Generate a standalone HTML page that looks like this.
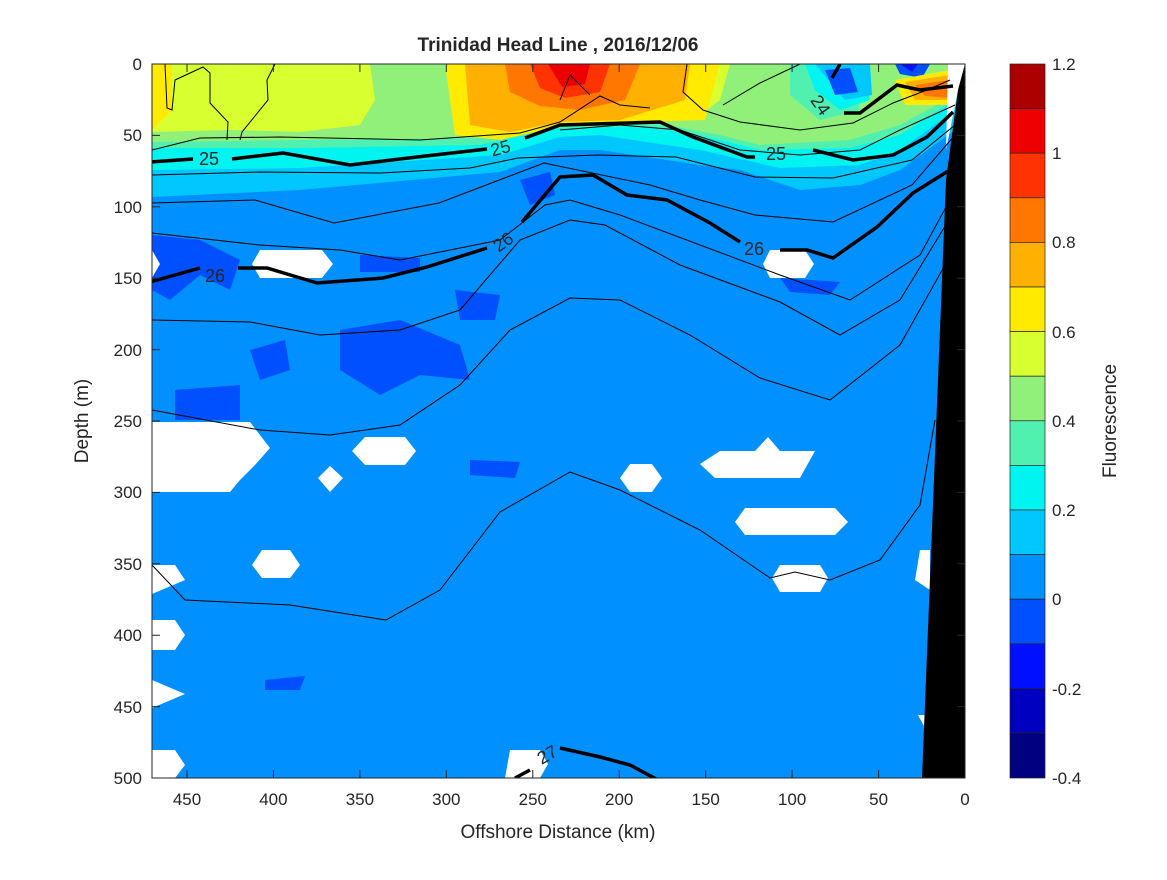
<!DOCTYPE html>
<html><head><meta charset="utf-8"><style>
body{margin:0;background:#fff;}
svg text{font-family:"Liberation Sans",sans-serif;fill:#262626;}
</style></head><body>
<svg width="1167" height="875" viewBox="0 0 1167 875" xmlns="http://www.w3.org/2000/svg">
<defs><clipPath id="c"><rect x="152" y="64" width="813" height="714"/></clipPath></defs>
<g clip-path="url(#c)">
<rect x="152" y="64" width="813" height="714" fill="#0090ff"/>
<g fill="#0050ff">
<polygon points="152,235 200,240 240,260 230,290 200,275 170,300 152,290"/>
<polygon points="340,330 400,320 460,345 470,380 420,375 380,395 340,370"/>
<polygon points="175,390 240,385 240,420 175,420"/>
<polygon points="250,350 285,340 290,370 260,380"/>
<polygon points="360,255 420,258 420,272 360,272"/>
<polygon points="455,290 500,295 495,320 460,320"/>
<polygon points="520,180 550,172 555,195 530,205"/>
<polygon points="780,278 840,282 830,295 790,292"/>
<polygon points="265,680 305,676 300,690 265,690"/>
<polygon points="470,460 520,462 515,478 470,475"/>
</g>
<!-- light blue -->
<path fill="#00c8ff" d="M152,64 L965,64 L955,130 L900,170 L860,185 L800,190 L740,170 L700,165 L600,150 L560,150 L500,172 L300,190 L152,197 Z"/>
<!-- cyan -->
<path fill="#00f5f0" d="M152,64 L965,64 L955,110 L900,150 L860,165 L780,168 L700,150 L600,135 L560,137 L500,155 L300,168 L152,170 Z"/>
<path fill="#50f0b0" d="M152,64 L965,64 L955,100 L900,135 L850,148 L760,150 L720,140 L650,126 L560,128 L480,145 L300,148 L152,148 Z"/>
<!-- light green -->
<path fill="#90f07a" d="M152,64 L965,64 L955,95 L900,125 L850,140 L760,145 L720,135 L650,122 L560,125 L480,138 L300,140 L152,142 Z"/>
<!-- yellow-green -->
<path fill="#d8ff30" d="M152,64 L370,64 L375,100 L360,125 L300,132 L230,130 L152,132 Z"/>
<polygon fill="#ffea00" points="152,64 172,64 172,110 152,130"/>
<!-- right bowl -->
<polygon fill="#d8ff30" points="690,64 730,64 720,100 700,115 690,100"/>
<polygon fill="#50f0b0" points="790,64 850,64 860,110 820,120 790,95"/>
<polygon fill="#00f5f0" points="805,64 865,64 870,100 840,110 815,90"/>
<polygon fill="#00c8ff" points="815,64 870,64 872,95 845,100"/>
<polygon fill="#0050ff" points="825,70 850,68 858,92 835,95"/>
<polygon fill="#0050ff" points="895,64 930,64 922,78 900,74"/>
<polygon fill="#0010ff" points="900,64 918,64 912,72"/>
<!-- orange -->
<polygon fill="#ffea00" points="445,64 720,64 705,120 640,122 560,126 500,140 455,135"/>
<polygon fill="#ffb000" points="465,64 690,64 685,100 620,120 560,122 510,132 470,125"/>
<polygon fill="#ff7700" points="505,64 640,64 625,100 580,110 540,106 510,92"/>
<polygon fill="#ff3300" points="530,64 610,64 600,92 565,98 540,88"/>
<polygon fill="#ee0000" points="548,64 590,64 585,84 562,87"/>
<polygon fill="#ffea00" points="895,80 950,70 950,105 905,105"/>
<polygon fill="#ffb000" points="905,82 950,75 950,100 915,100"/>
<polygon fill="#ff7700" points="915,85 950,80 950,98 925,96"/>
<!-- white holes -->
<g fill="#fff">
<polygon points="152,250 160,264 152,278"/>
<polygon points="260,250 322,250 333,264 322,278 260,278 252,264"/>
<polygon points="770,250 805,250 814,264 805,278 770,278 763,264"/>
<polygon points="152,422 250,422 270,448 255,465 240,480 230,492 152,492"/>
<polygon points="365,437 405,437 416,451 405,465 365,465 352,451"/>
<polygon points="330,466 343,478 330,492 318,478"/>
<polygon points="720,451 755,451 768,437 780,451 815,451 800,478 715,478 700,464"/>
<polygon points="630,464 652,464 662,478 652,492 630,492 620,478"/>
<polygon points="745,508 835,508 848,522 835,535 745,535 735,522"/>
<polygon points="262,550 290,550 300,565 290,578 262,578 252,565"/>
<polygon points="780,565 820,565 828,578 820,592 780,592 772,578"/>
<polygon points="152,565 175,565 185,580 152,594"/>
<polygon points="152,620 175,620 185,635 175,650 152,650"/>
<polygon points="152,680 185,694 152,708"/>
<polygon points="152,750 175,750 185,765 175,778 152,778"/>
<polygon points="510,750 540,750 548,764 540,778 505,778"/>
<polygon points="920,550 930,550 930,590 915,580"/>
<polygon points="918,715 925,715 925,728"/>
<polygon points="948,64 965,64 958,90 946,150"/>
</g>
<polygon fill="#000" points="965,64 965,778 922,778 946,180 958,90"/>
<!-- thin contours -->
<g fill="none" stroke="#000" stroke-width="1">
<polyline points="165,64 167,108 172,110 175,80 203,67 210,73 210,103 228,122 227,140"/>
<polyline points="275,64 267,80 268,100 242,132 240,140"/>
<polyline points="152,150 200,138 280,137 420,140 520,133 560,122 600,96 620,105 650,108"/>
<polyline points="560,100 570,75 590,95"/>
<polyline points="687,64 683,92 703,110 740,122 800,130 853,123 893,103 927,90 950,80"/>
<polyline points="723,105 760,83 800,64"/>
<polyline points="560,130 620,125 680,130 740,150 800,155 860,150 900,130 955,105"/>
<polyline points="152,175 260,172 380,173 470,168 518,158 597,155 676,157 755,177 833,178 912,160 955,125"/>
<polyline points="152,203 255,200 334,223 439,203 544,163 650,185 700,200 755,215 833,222 912,185 955,135"/>
<polyline points="152,233 260,245 340,250 400,260 500,240 545,205 570,200 620,215 700,245 780,275 850,300 920,255 958,185"/>
<polyline points="152,320 250,322 320,335 400,330 460,310 520,240 570,220 605,225 680,265 780,302 840,335 900,300 958,205"/>
<polyline points="152,410 260,430 330,435 400,425 460,385 510,330 570,298 620,300 690,335 760,378 830,400 900,345 945,265"/>
<polyline points="152,565 185,600 290,605 386,620 440,590 500,512 570,472 620,490 700,530 770,578 795,572 830,580 880,560 920,505 935,420"/>
</g>
<!-- thick contours -->
<g fill="none" stroke="#000" stroke-width="3.5">
<polyline points="150,162 193,159"/>
<polyline points="232,159 283,153 350,165 417,157 487,149"/>
<polyline points="525,138 560,125 660,122 693,137 747,157 755,157"/>
<polyline points="813,150 853,160 893,155 927,137 953,112"/>
<polyline points="840,64 832,78"/>
<polyline points="844,113 860,113 897,85 920,90 953,86"/>
<polyline points="150,282 200,268"/>
<polyline points="238,268 267,268 317,283 383,278 427,267 487,248"/>
<polyline points="522,222 560,177 593,175 627,195 667,200 710,223 740,242"/>
<polyline points="780,250 807,250 833,258 877,227 913,193 953,168"/>
<polyline points="515,778 530,770"/>
<polyline points="560,748 600,757 630,765 658,780"/>
</g>
<g font-size="18" fill="#000">
<text x="199" y="165">25</text>
<text x="490" y="153" transform="rotate(-15 505 146)">25</text>
<text x="766" y="160">25</text>
<text x="205" y="282">26</text>
<text x="490" y="246" transform="rotate(-35 505 236)">26</text>
<text x="744" y="255">26</text>
<text x="812" y="112" transform="rotate(55 822 104)">24</text>
<text x="537" y="762" transform="rotate(-30 545 755)">27</text>
</g>
</g>
<rect x="152" y="64" width="813" height="714" fill="none" stroke="#262626" stroke-width="1"/>
<g stroke="#262626" stroke-width="1">
<path d="M152,135.4h8M152,206.8h8M152,278.2h8M152,349.6h8M152,421h8M152,492.4h8M152,563.8h8M152,635.2h8M152,706.6h8"/>
<path d="M965,135.4h-8M965,206.8h-8M965,278.2h-8M965,349.6h-8M965,421h-8M965,492.4h-8M965,563.8h-8M965,635.2h-8M965,706.6h-8"/>
<path d="M187,778v-8M273.4,778v-8M359.9,778v-8M446.3,778v-8M532.8,778v-8M619.2,778v-8M705.7,778v-8M792.1,778v-8M878.6,778v-8"/>
<path d="M187,64v8M273.4,64v8M359.9,64v8M446.3,64v8M532.8,64v8M619.2,64v8M705.7,64v8M792.1,64v8M878.6,64v8"/>
</g>
<g font-size="17" text-anchor="end">
<text x="142" y="70">0</text><text x="142" y="141">50</text><text x="142" y="213">100</text><text x="142" y="284">150</text><text x="142" y="356">200</text><text x="142" y="427">250</text><text x="142" y="498">300</text><text x="142" y="570">350</text><text x="142" y="641">400</text><text x="142" y="713">450</text><text x="142" y="784">500</text>
</g>
<g font-size="17" text-anchor="middle">
<text x="187" y="805">450</text><text x="273.4" y="805">400</text><text x="359.9" y="805">350</text><text x="446.3" y="805">300</text><text x="532.8" y="805">250</text><text x="619.2" y="805">200</text><text x="705.7" y="805">150</text><text x="792.1" y="805">100</text><text x="878.6" y="805">50</text><text x="965" y="805">0</text>
</g>
<text x="558" y="838" font-size="19" text-anchor="middle">Offshore Distance (km)</text>
<text x="88" y="421" font-size="19" text-anchor="middle" transform="rotate(-90 88 421)">Depth (m)</text>
<text x="558" y="51" font-size="19" font-weight="bold" text-anchor="middle" fill="#000">Trinidad Head Line , 2016/12/06</text>
<g stroke="#262626" stroke-width="0.7">
<rect x="1010" y="64" width="35" height="44.6" fill="#aa0000"/>
<rect x="1010" y="108.6" width="35" height="44.6" fill="#ee0000"/>
<rect x="1010" y="153.2" width="35" height="44.6" fill="#ff3300"/>
<rect x="1010" y="197.8" width="35" height="44.6" fill="#ff7700"/>
<rect x="1010" y="242.4" width="35" height="44.6" fill="#ffb000"/>
<rect x="1010" y="287" width="35" height="44.6" fill="#ffea00"/>
<rect x="1010" y="331.6" width="35" height="44.6" fill="#d8ff30"/>
<rect x="1010" y="376.2" width="35" height="44.6" fill="#90f07a"/>
<rect x="1010" y="420.8" width="35" height="44.6" fill="#50f0b0"/>
<rect x="1010" y="465.4" width="35" height="44.6" fill="#00f5f0"/>
<rect x="1010" y="510" width="35" height="44.6" fill="#00c8ff"/>
<rect x="1010" y="554.6" width="35" height="44.6" fill="#0090ff"/>
<rect x="1010" y="599.2" width="35" height="44.6" fill="#0050ff"/>
<rect x="1010" y="643.8" width="35" height="44.6" fill="#0010ff"/>
<rect x="1010" y="688.4" width="35" height="44.6" fill="#0000c0"/>
<rect x="1010" y="733" width="35" height="45" fill="#000080"/>
</g>
<g font-size="17">
<text x="1052" y="70">1.2</text><text x="1052" y="159">1</text><text x="1052" y="248">0.8</text><text x="1052" y="338">0.6</text><text x="1052" y="427">0.4</text><text x="1052" y="516">0.2</text><text x="1052" y="605">0</text><text x="1052" y="695">-0.2</text><text x="1052" y="784">-0.4</text>
</g>
<text x="1116" y="421" font-size="19" text-anchor="middle" transform="rotate(-90 1116 421)">Fluorescence</text>
</svg>
</body></html>
